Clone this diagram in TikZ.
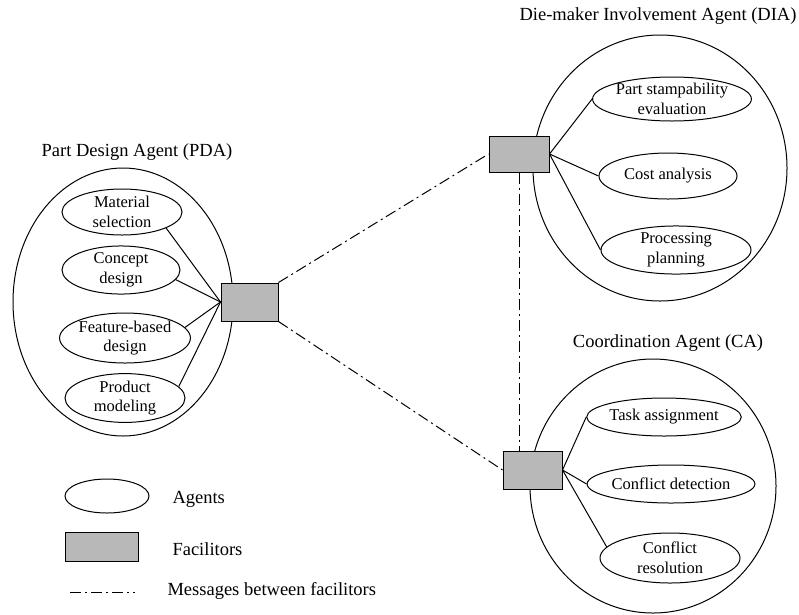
\documentclass[tikz,border=0pt]{standalone}
\usepackage{fontspec}
\setmainfont{Liberation Serif}
\usetikzlibrary{shapes.geometric}

\definecolor{facgray}{RGB}{184,184,184}

\tikzset{
  every picture/.style={line width=1pt},
  agentgroup/.style={draw, ellipse, inner sep=0pt},
  agentbox/.style={draw, ellipse, inner sep=0pt, align=center,
    font=\fontsize{16.5}{19.5}\selectfont},
  facbox/.style={draw, fill=facgray, rectangle, inner sep=0pt},
  grouptitle/.style={inner sep=0pt, font=\fontsize{18.5}{22}\selectfont},
  legendtext/.style={inner sep=0pt, anchor=west, font=\fontsize{18.5}{22}\selectfont},
  msgline/.style={dash pattern=on 11pt off 4pt on 2pt off 4pt},
  link/.style={line width=1pt}
}

\begin{document}
\begin{tikzpicture}[x=1pt,y=-1pt]
\useasboundingbox (0,0) rectangle (799,614);

% ---- group outlines ----
\node[agentgroup, minimum width=220pt, minimum height=268pt] (pda) at (123,302) {};
\node[agentgroup, minimum width=254pt, minimum height=266pt] (dia) at (660,168) {};
\node[agentgroup, minimum width=246pt, minimum height=254pt] (cag) at (653,486) {};

% ---- group titles ----
\node[grouptitle] (tpda) at (137,152) {Part Design Agent (PDA)};
\node[grouptitle] (tdia) at (658,16) {Die-maker Involvement Agent (DIA)};
\node[grouptitle] (tca)  at (668,343) {Coordination Agent (CA)};

% ---- agents of the part design group ----
\node[agentbox, minimum width=120pt, minimum height=46pt] (ms) at (122,212) {Material\\selection};
\node[agentbox, minimum width=118pt, minimum height=46pt] (cd) at (121,270) {Concept\\design};
\node[agentbox, minimum width=120pt, minimum height=50pt] (fb) at (125,338) {Feature-based\\design};
\node[agentbox, minimum width=120pt, minimum height=44pt] (pm) at (125,398) {Product\\modeling};

% ---- agents of the die-maker group ----
\node[agentbox, minimum width=148pt, minimum height=42pt] (pse) at (672,99) {Part stampability\\evaluation};
\node[agentbox, minimum width=138pt, minimum height=46pt] (cost) at (668,176) {Cost analysis};
\node[agentbox, minimum width=150pt, minimum height=46pt] (pp) at (676,250) {Processing\\planning};

% ---- agents of the coordination group ----
\node[agentbox, minimum width=132pt, minimum height=38pt] (ta) at (664,417) {Task assignment};
\node[agentbox, minimum width=138pt, minimum height=38pt] (cdet) at (671,484) {Conflict detection};
\node[agentbox, minimum width=140pt, minimum height=50pt] (cr) at (670,558) {Conflict\\resolution};

% ---- facilitators ----
\node[facbox, minimum width=57pt, minimum height=38pt] (f1) at (249.5,302) {};
\node[facbox, minimum width=60pt, minimum height=36pt] (f2) at (519,154) {};
\node[facbox, minimum width=59pt, minimum height=38pt] (f3) at (532.5,470) {};

% ---- agent to facilitator links ----
\draw[link] (f1.west) -- (ms.-20);
\draw[link] (f1.west) -- (cd.-10);
\draw[link] (f1.west) -- (fb.10);
\draw[link] (f1.west) -- (pm.12);

\draw[link] (f2.east) -- (pse.west);
\draw[link] (f2.east) -- (cost.west);
\draw[link] (f2.east) -- (pp.west);

\draw[link] (f3.east) -- (ta.west);
\draw[link] (f3.east) -- (cdet.west);
\draw[link] (f3.east) -- (cr.170);

% ---- messages between facilitators ----
\draw[msgline] (f1.north east) -- (f2.west);
\draw[msgline] (f1.south east) -- (f3.west);
\draw[msgline] (f2.south) -- (f2.south |- f3.north);

% ---- legend ----
\node[agentgroup, minimum width=84pt, minimum height=34pt] (lge) at (107,496) {};
\node[legendtext] (lget) at (172,499) {Agents};
\node[facbox, minimum width=73pt, minimum height=29pt] (lgr) at (102,547) {};
\node[legendtext] (lgrt) at (172,549) {Facilitors};
\coordinate (lga) at (70,592);
\coordinate (lgb) at (135,592);
\draw[msgline] (lga) -- (lgb);
\node[legendtext] (lgmt) at (167,591) {Messages between facilitors};

\end{tikzpicture}
\end{document}
